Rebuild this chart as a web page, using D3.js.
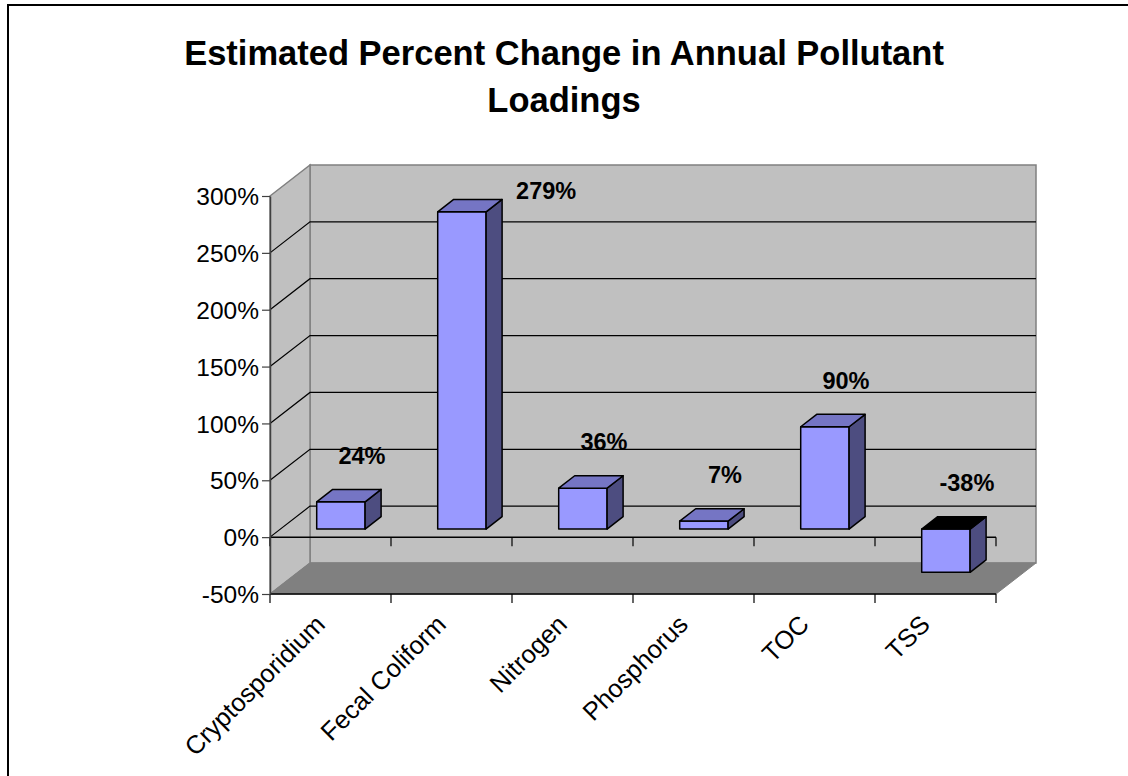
<!DOCTYPE html>
<html>
<head>
<meta charset="utf-8">
<script src="https://cdn.jsdelivr.net/npm/d3@7"></script>
<style>
  html, body { margin: 0; padding: 0; background: #fff; overflow: hidden; }
  svg { display: block; overflow: hidden; font-family: "Liberation Sans", Arial, sans-serif; }
</style>
</head>
<body>
<svg id="chart" width="1128" height="776"></svg>
<script>
// Chart data
const categories = ["Cryptosporidium", "Fecal Coliform", "Nitrogen", "Phosphorus", "TOC", "TSS"];
const values = [24, 279, 36, 7, 90, -38];
const yTickValues = [-50, 0, 50, 100, 150, 200, 250, 300];
const titleLines = ["Estimated Percent Change in Annual Pollutant", "Loadings"];

const svg = d3.select("#chart");

// Outer frame of the chart area (top and left edges fall inside the view)
svg.append("path")
  .attr("d", "M8,776L8,5L1128,5")
  .attr("fill", "none").attr("stroke", "#000").attr("stroke-width", 2);

// Title
svg.append("text")
  .attr("x", 564).attr("y", 65)
  .attr("text-anchor", "middle")
  .attr("font-size", 34.5).attr("font-weight", "bold")
  .selectAll("tspan").data(titleLines).join("tspan")
  .attr("x", 564).attr("dy", (d, i) => i === 0 ? 0 : 47)
  .text(d => d);

// Front plane scales and depth projection
const x = d3.scaleBand().domain(categories).range([270, 996]);
const y = d3.scaleLinear().domain([-50, 300]).range([594, 196]);
const DX = 40, DY = -31;
const P = (px, py, d) => [px + DX * d, py + DY * d];
const poly = pts => "M" + pts.map(p => p.join(",")).join("L") + "Z";

const [xmin, xmax] = x.range();
const [ymin, ymax] = [y(-50), y(300)];

// Walls and floor
const g = svg.append("g");
g.append("path") // back wall
  .attr("d", poly([P(xmin, ymax, 1), P(xmax, ymax, 1), P(xmax, ymin, 1), P(xmin, ymin, 1)]))
  .attr("fill", "#c0c0c0").attr("stroke", "#808080").attr("stroke-width", 1.5);
g.append("path") // side wall
  .attr("d", poly([P(xmin, ymax, 0), P(xmin, ymax, 1), P(xmin, ymin, 1), P(xmin, ymin, 0)]))
  .attr("fill", "#c0c0c0").attr("stroke", "#808080").attr("stroke-width", 1.5);
g.append("path") // floor
  .attr("d", poly([P(xmin, ymin, 0), P(xmin, ymin, 1), P(xmax, ymin, 1), P(xmax, ymin, 0)]))
  .attr("fill", "#808080").attr("stroke", "#808080").attr("stroke-width", 1);

// Gridlines on side wall and back wall
const gridVals = yTickValues.filter(v => v > -50 && v < 300);
gridVals.forEach(v => {
  g.append("path")
    .attr("d", "M" + P(xmin, y(v), 0).join(",") + "L" + P(xmin, y(v), 1).join(",") + "L" + P(xmax, y(v), 1).join(","))
    .attr("fill", "none").attr("stroke", "#000").attr("stroke-width", 1.2);
});

// Category axis lines (at zero and along the floor edge) with boundary ticks
const bounds = categories.map(c => x(c)).concat([xmax]);
[0, -50].forEach(v => {
  g.append("line")
    .attr("x1", xmin).attr("x2", xmax).attr("y1", y(v)).attr("y2", y(v))
    .attr("stroke", "#000").attr("stroke-width", 1.5);
  g.selectAll(null).data(bounds).join("line")
    .attr("x1", d => d).attr("x2", d => d)
    .attr("y1", y(v)).attr("y2", y(v) + 9)
    .attr("stroke", "#000").attr("stroke-width", 1.2);
});

// Value axis
const yAxis = svg.append("g")
  .attr("transform", `translate(${xmin},0)`)
  .call(d3.axisLeft(y).tickValues(yTickValues).tickFormat(d => d + "%").tickSize(8).tickSizeOuter(0));
yAxis.select(".domain").attr("stroke", "#404040").attr("stroke-width", 1.5);
yAxis.selectAll(".tick line").attr("stroke", "#404040").attr("stroke-width", 1.2);
yAxis.selectAll(".tick text")
  .attr("font-size", 24.5).attr("font-family", "Liberation Sans, Arial, sans-serif")
  .attr("fill", "#000").attr("x", -11).attr("dy", "0.35em");

// 3D columns
const bw = x.bandwidth();
const D0 = 0.26, D1 = 0.66;
const barData = categories.map((c, i) => {
  const v = values[i];
  const x0 = x(c) + bw * 0.3, x1 = x(c) + bw * 0.7;
  const yTop = y(Math.max(v, 0)), yBot = y(Math.min(v, 0));
  return { c, v, x0, x1, yTop, yBot };
});

const bars = svg.append("g").selectAll("g").data(barData).join("g");
bars.append("path") // front face
  .attr("d", d => poly([P(d.x0, d.yTop, D0), P(d.x1, d.yTop, D0), P(d.x1, d.yBot, D0), P(d.x0, d.yBot, D0)]))
  .attr("fill", "#9999ff").attr("stroke", "#000").attr("stroke-width", 1.5).attr("stroke-linejoin", "round");
bars.append("path") // side face
  .attr("d", d => poly([P(d.x1, d.yTop, D0), P(d.x1, d.yTop, D1), P(d.x1, d.yBot, D1), P(d.x1, d.yBot, D0)]))
  .attr("fill", "#4d4d80").attr("stroke", "#000").attr("stroke-width", 1.5).attr("stroke-linejoin", "round");
bars.append("path") // top face
  .attr("d", d => poly([P(d.x0, d.yTop, D0), P(d.x1, d.yTop, D0), P(d.x1, d.yTop, D1), P(d.x0, d.yTop, D1)]))
  .attr("fill", d => d.v < 0 ? "#000" : "#7575c4").attr("stroke", "#000").attr("stroke-width", 1.5).attr("stroke-linejoin", "round");

// Data labels: above the column, or beside it when there is no room above
const labelSize = 23.5;
bars.append("text")
  .attr("font-size", labelSize).attr("font-weight", "bold")
  .each(function (d) {
    const t = d3.select(this).text(d.v + "%");
    const backTop = P(d.x0, d.yTop, D1);
    const backRight = P(d.x1, d.yTop, D1);
    const cxTop = (backTop[0] + backRight[0]) / 2;
    const ly = backTop[1] - 34;
    if (ly - labelSize / 2 < ymax + DY) {
      t.attr("x", backRight[0] + 14).attr("y", backTop[1] - 9).attr("text-anchor", "start");
    } else {
      t.attr("x", cxTop + 5).attr("y", ly).attr("text-anchor", "middle");
    }
    t.attr("dy", "0.35em");
  });

// Category labels, rotated
svg.append("g").selectAll("text").data(categories).join("text")
  .attr("transform", c => `translate(${x(c) + bw / 2 - 4},${ymin + 32}) rotate(-45)`)
  .attr("text-anchor", "end")
  .attr("font-size", 25.5)
  .text(c => c);
</script>
</body>
</html>
